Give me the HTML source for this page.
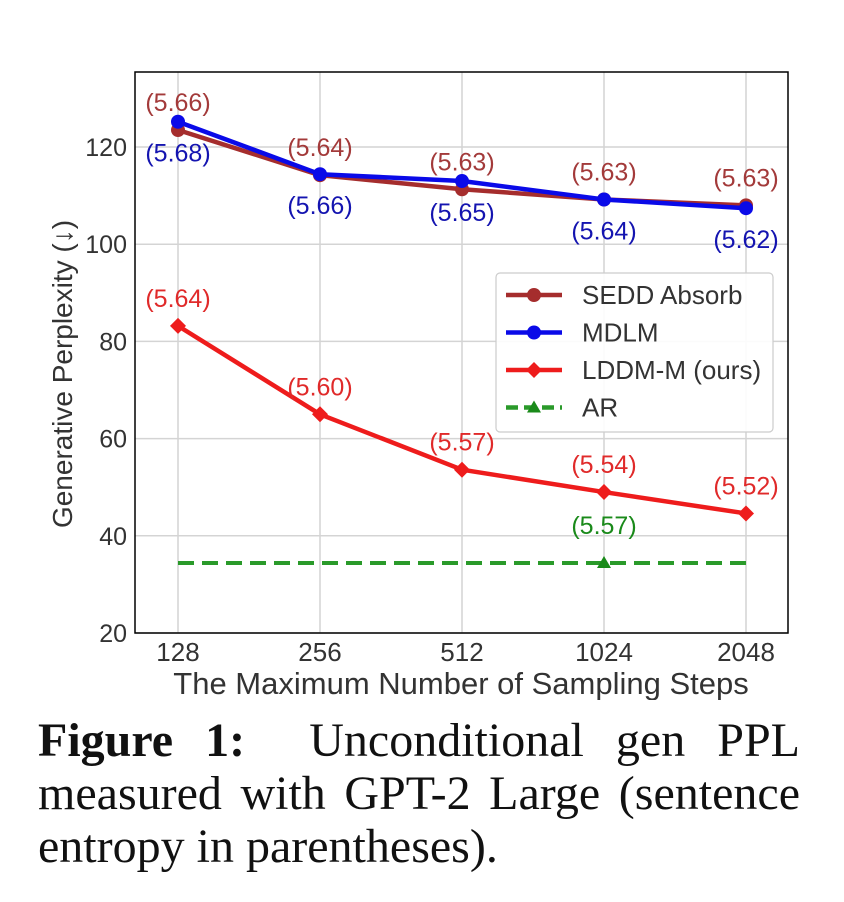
<!DOCTYPE html>
<html><head><meta charset="utf-8"><style>
body{margin:0;background:#fff;width:844px;height:902px;overflow:hidden;position:relative}
svg{position:absolute;left:0;top:0}
.cap{position:absolute;left:38px;width:762px;font-family:"Liberation Serif",serif;font-size:48px;line-height:53px;color:#111;white-space:nowrap}
.j{text-align:justify;text-align-last:justify}
</style></head><body>
<svg id="chart" width="844" height="700" font-family="Liberation Sans, sans-serif"></svg>
<div class="cap j" style="top:714px"><b>Figure 1:</b>&nbsp; Unconditional gen PPL</div>
<div class="cap j" style="top:767px">measured with GPT-2 Large (sentence</div>
<div class="cap" style="top:820px">entropy in parentheses).</div>
<script>
const categories=["128","256","512","1024","2048"];
const yTicks=[20,40,60,80,100,120];
const sedd=[123.5,114.2,111.3,109.2,108.0];
const seddEnt=["(5.66)","(5.64)","(5.63)","(5.63)","(5.63)"];
const mdlm=[125.2,114.4,113.0,109.2,107.4];
const mdlmEnt=["(5.68)","(5.66)","(5.65)","(5.64)","(5.62)"];
const lddm=[83.2,65.0,53.6,49.0,44.6];
const lddmEnt=["(5.64)","(5.60)","(5.57)","(5.54)","(5.52)"];
const arVal=34.4;
const arEnt="(5.57)";
const arMarkerIdx=3;

const NS="http://www.w3.org/2000/svg";
const svg=document.getElementById('chart');
const L=135,R=788,T=72,B=633;
const x=i=>178+i*142;
const y=v=>B-(v-20)*4.86;
function el(tag,attrs,parent){const e=document.createElementNS(NS,tag);for(const k in attrs)e.setAttribute(k,attrs[k]);(parent||svg).appendChild(e);return e;}
function txt(s,attrs){const t=el('text',attrs);t.textContent=s;return t;}

yTicks.forEach(v=>{const g=el('line',{x1:L,x2:R,y1:y(v),y2:y(v),stroke:'#d4d4d4','stroke-width':1.5});


const t=txt(String(v),{x:127,y:y(v)+9,'text-anchor':'end','font-size':25,fill:'#333'});

});
categories.forEach((c,i)=>{const g=el('line',{x1:x(i),x2:x(i),y1:T,y2:B,stroke:'#d4d4d4','stroke-width':1.5});


const t=txt(c,{x:x(i),y:661,'text-anchor':'middle','font-size':26,fill:'#333'});

});
const fr=el('rect',{x:L,y:T,width:R-L,height:B-T,fill:'none',stroke:'#000','stroke-width':1.5});


const xt=txt('The Maximum Number of Sampling Steps',{x:461,y:694,'text-anchor':'middle','font-size':31,fill:'#333'});


const yt=txt('Generative Perplexity (↓)',{x:0,y:0,'text-anchor':'middle','font-size':28,fill:'#333',transform:'translate(72,374) rotate(-90)'});



const ar=el('line',{x1:x(0),x2:x(4),y1:y(arVal),y2:y(arVal),stroke:'#2a9a2a','stroke-width':4,'stroke-dasharray':'16,8'});


const am=el('polygon',{points:`${x(arMarkerIdx)},${y(arVal)-7} ${x(arMarkerIdx)-7},${y(arVal)+5} ${x(arMarkerIdx)+7},${y(arVal)+5}`,fill:'#1a8a1a'});


const al=txt(arEnt,{x:x(arMarkerIdx),y:y(arVal)-29,'text-anchor':'middle','font-size':25,fill:'#1a8a1a'});



function series(vals,color,name,marker){
 const p=el('polyline',{points:vals.map((v,i)=>x(i)+','+y(v)).join(' '),fill:'none',stroke:color,'stroke-width':4.5,'stroke-linejoin':'round'});
 
 
 vals.forEach((v,i)=>{let m;
  if(marker==='d'){m=el('polygon',{points:`${x(i)},${y(v)-8} ${x(i)+8},${y(v)} ${x(i)},${y(v)+8} ${x(i)-8},${y(v)}`,fill:color});}
  else m=el('circle',{cx:x(i),cy:y(v),r:7,fill:color});
  
  });
}
function labels(vals,ents,color,dy,name){vals.forEach((v,i)=>{const t=txt(ents[i],{x:x(i),y:y(v)+dy,'text-anchor':'middle','font-size':25,fill:color});
 
 });}
series(sedd,'#a52d2d','sedd','o');
series(mdlm,'#0a0ae8','mdlm','o');
series(lddm,'#ee1c1c','lddm','d');
labels(sedd,seddEnt,'#a33a3a',-19,'sedd');
labels(mdlm,mdlmEnt,'#1414b0',40,'mdlm');
labels(lddm,lddmEnt,'#e02a2a',-19,'lddm');

const lg=el('rect',{x:496,y:273,width:277,height:159,rx:4,fill:'#fff','fill-opacity':0.9,stroke:'#ccc','stroke-width':1.2});


const items=[['SEDD Absorb','#a52d2d','o',0],['MDLM','#0a0ae8','o',0],['LDDM-M (ours)','#ee1c1c','d',0],['AR','#2a9a2a','t',1]];
items.forEach((it,k)=>{const cy=295+k*37.5;
 const ln=el('line',{x1:506,x2:562,y1:cy,y2:cy,stroke:it[1],'stroke-width':4.5,'stroke-dasharray':it[3]?'12,6':'none'});
 
 
 if(it[2]==='o')el('circle',{cx:534,cy:cy,r:7,fill:it[1]});
 else if(it[2]==='d')el('polygon',{points:`534,${cy-8} 542,${cy} 534,${cy+8} 526,${cy}`,fill:it[1]});
 else el('polygon',{points:`534,${cy-7} 527,${cy+5} 541,${cy+5}`,fill:'#1a8a1a'});
 const t=txt(it[0],{x:582,y:cy+9,'font-size':26,fill:'#333'});
 
 });
</script>
</body></html>
